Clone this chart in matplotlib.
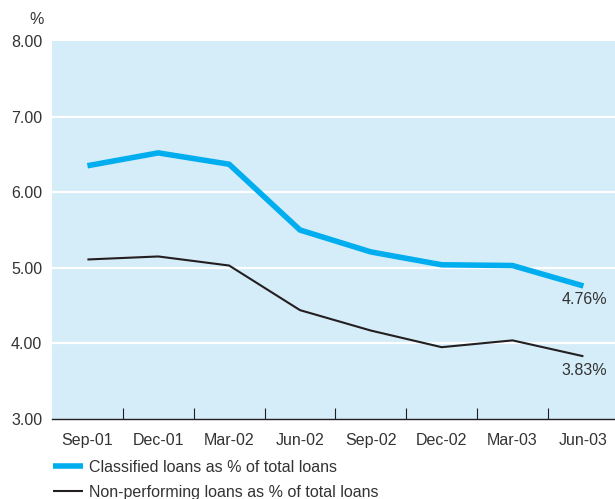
import matplotlib
matplotlib.use("Agg")
import matplotlib.pyplot as plt
import numpy as np

plt.rcParams['font.family'] = ['Liberation Sans', 'DejaVu Sans']

quarters = ['Sep-01', 'Dec-01', 'Mar-02', 'Jun-02', 'Sep-02', 'Dec-02', 'Mar-03', 'Jun-03']
classified = [6.35, 6.52, 6.37, 5.50, 5.21, 5.04, 5.03, 4.76]
non_performing = [5.11, 5.15, 5.03, 4.44, 4.17, 3.95, 4.04, 3.83]
y_ticks = [3.0, 4.0, 5.0, 6.0, 7.0, 8.0]

cyan = '#00AEEF'
dark = '#231F20'
text_col = '#333333'
bg = '#D5ECF9'
fs = 11.5

W, H = 615, 499
fig = plt.figure(figsize=(W / 100, H / 100), dpi=100)
# plot area in pixels: left 52, top 41, bottom 419, runs past the right edge
ax = fig.add_axes([52 / W, (H - 419) / H, 1 - 52 / W, (419 - 41) / H])
ax.set_facecolor(bg)

x = np.arange(len(quarters))
step = 70.85  # px per category
ax.set_xlim(-0.5, -0.5 + (W - 52) / step)
ax.set_ylim(3, 8)

for v in y_ticks[1:-1]:
    ax.axhline(v, color='white', lw=1.6, zorder=1)

ax.plot(x, classified, color=cyan, lw=4.0, solid_capstyle='butt',
        solid_joinstyle='miter', zorder=3, label='Classified loans as % of total loans')
ax.plot(x, non_performing, color=dark, lw=1.5, solid_capstyle='butt',
        zorder=3, label='Non-performing loans as % of total loans')

ax.annotate(f'{classified[-1]:.2f}%', (x[-1], classified[-1]), xytext=(1, -10),
            textcoords='offset points', ha='center', va='center',
            fontsize=fs, color=text_col)
ax.annotate(f'{non_performing[-1]:.2f}%', (x[-1], non_performing[-1]), xytext=(1, -10),
            textcoords='offset points', ha='center', va='center',
            fontsize=fs, color=text_col)

for s in ['top', 'right', 'left']:
    ax.spines[s].set_visible(False)
ax.spines['bottom'].set_color(dark)
ax.spines['bottom'].set_linewidth(1.0)

ax.set_yticks(y_ticks)
ax.set_yticklabels([f'{v:.2f}' for v in y_ticks])
ax.tick_params(axis='y', length=0, pad=7, labelsize=fs, labelcolor=text_col)

ax.set_xticks(x)
ax.set_xticklabels(quarters)
ax.tick_params(axis='x', which='major', length=0, pad=10, labelsize=fs, labelcolor=text_col)
ax.set_xticks(x[:-1] + 0.5, minor=True)
ax.tick_params(axis='x', which='minor', direction='in', length=8, width=0.8, color=dark)

fig.text(29 / W, (H - 20) / H, '%', fontsize=fs, color=text_col, va='center')

leg = ax.legend(loc='upper left', bbox_to_anchor=(53 / W, (H - 460) / H),
                bbox_transform=fig.transFigure, frameon=False, fontsize=fs,
                handlelength=1.85, handletextpad=0.4, labelspacing=0.6,
                borderpad=0, borderaxespad=0)
for t in leg.get_texts():
    t.set_color(text_col)

fig.savefig('out.png', dpi=100, facecolor='white')
